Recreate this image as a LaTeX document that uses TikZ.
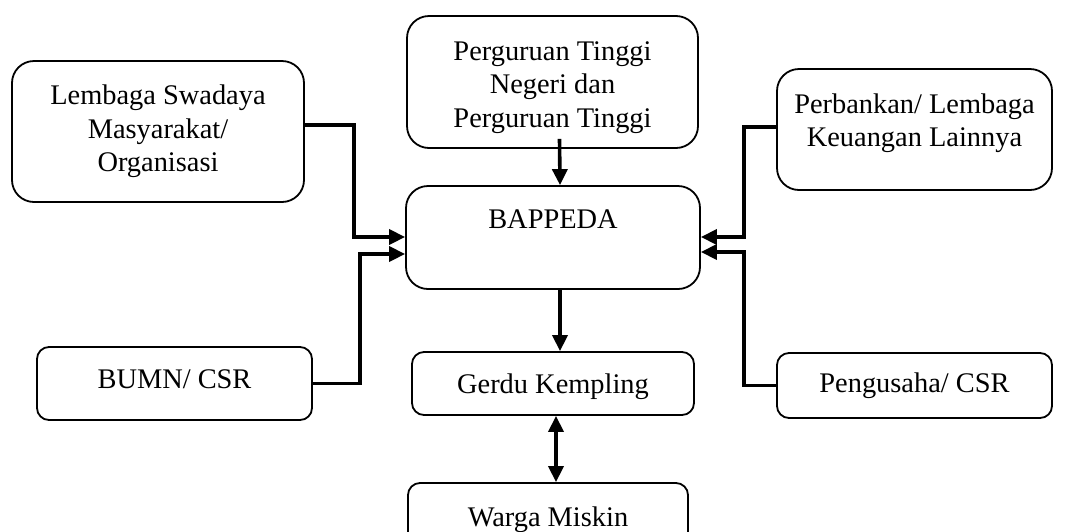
\documentclass[tikz,border=0pt]{standalone}
\usepackage{fontspec}
\setmainfont{Liberation Serif}
\usetikzlibrary{arrows.meta}

\begin{document}
\begin{tikzpicture}[x=1pt,y=-1pt,>={Triangle[length=16pt,width=15pt]}]
      \tikzstyle{box}=[draw=black,line width=1.8pt,rounded corners=12pt,align=center,inner sep=0pt,
        font=\fontsize{28.4}{33.5}\selectfont]
      \tikzstyle{big}=[rounded corners=22pt]
      \tikzstyle{conn}=[->,line width=3.6pt]
      \useasboundingbox (0,0) rectangle (1065,531);
      \clip (0,0) rectangle (1065,531);
      \node[box,big,minimum width=292pt,minimum height=141pt] (lsm) at (158,131.5) {Lembaga Swadaya\\Masyarakat/\\Organisasi};
      \node[box,big,minimum width=291pt,minimum height=132pt,text height=90pt,text depth=0pt] (pt) at (552.5,82) {Perguruan Tinggi\\Negeri dan\\Perguruan Tinggi};
      \node[box,big,minimum width=275pt,minimum height=121pt,text depth=19pt] (bank) at (914.5,129.5) {Perbankan/ Lembaga\\Keuangan Lainnya};
      \node[box,big,minimum width=294pt,minimum height=103pt,text depth=36pt] (bappeda) at (553,237.5) {BAPPEDA};
      \node[box,minimum width=275pt,minimum height=73pt,text depth=8pt] (bumn) at (174.5,383.5) {BUMN/ CSR};
      \node[box,minimum width=282pt,minimum height=63pt,text depth=0pt] (gerdu) at (553,383.5) {Gerdu Kempling};
      \node[box,minimum width=275pt,minimum height=65pt] (usaha) at (914.5,385.5) {Pengusaha/ CSR};
      \node[box,minimum width=280pt,minimum height=73pt] (warga) at (548,519.5) {Warga Miskin};
      \draw[conn] (lsm.east |- 0,125) -- (354,125) |- (bappeda.west |- 0,237);
      \draw[conn] (bumn.east) -- (360,383.5) |- (bappeda.west |- 0,254);
      \draw[conn] (bank.west |- 0,127) -- (744,127) |- (bappeda.east |- 0,237);
      \draw[conn] (usaha.west) -- (744,385.5) |- (bappeda.east |- 0,252);
      \draw[conn] ([xshift=7pt,yshift=10pt]pt.south) -- ([xshift=7pt]bappeda.north);
      \draw[conn] ([xshift=7pt]bappeda.south) -- ([xshift=7pt]gerdu.north);
      \draw[conn,<->] ([xshift=3pt]gerdu.south) -- ([xshift=3pt]gerdu.south |- warga.north);
    \end{tikzpicture}
\end{document}
